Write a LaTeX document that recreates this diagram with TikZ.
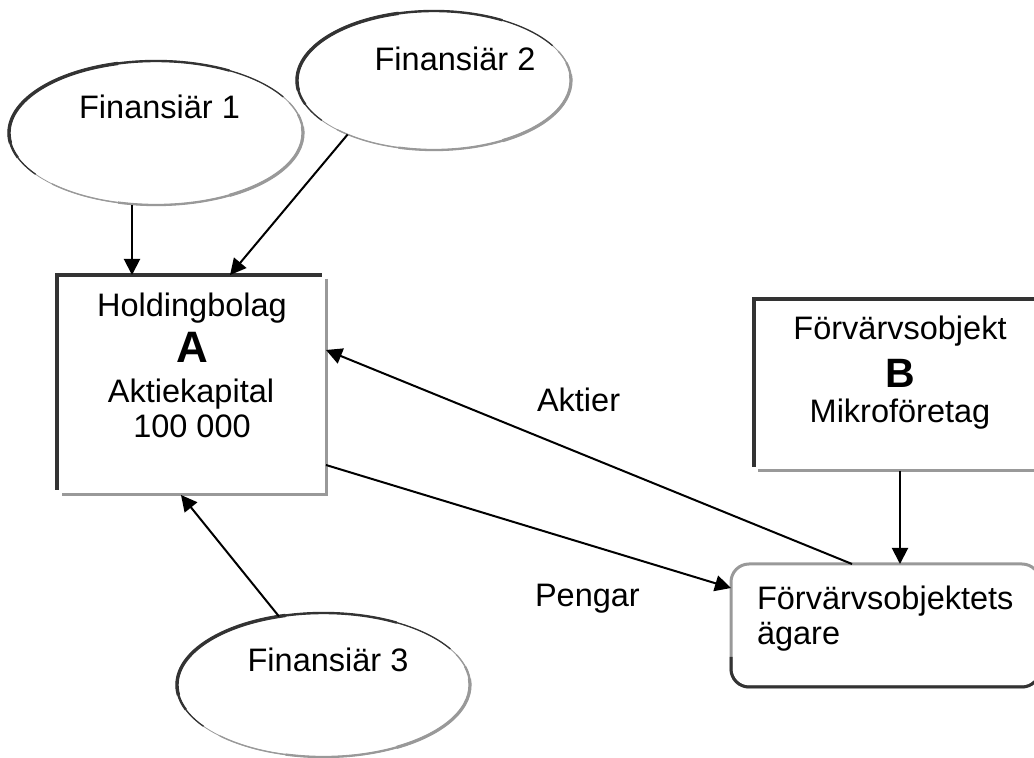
\documentclass[tikz,border=0pt]{standalone}
\usepackage{fontspec}
\setmainfont{Liberation Sans}
\usetikzlibrary{shapes.geometric,arrows.meta}

\definecolor{rimdark}{gray}{0.2}
\definecolor{rimlight}{gray}{0.6}

% Oval with a shaded rim: dark on the upper left, light on the lower right.
% #1 node name, #2 x radius (pt), #3 y radius (pt)
\newcommand\rimoval[3]{%
  \draw[rimlight, line width=0.8pt] (#1.center) ellipse[x radius=#2pt, y radius=#3pt];
  \draw[rimdark, line width=1.3pt] ([shift={(215:#2pt and #3pt)}]#1.center)
    arc[start angle=215, end angle=30, x radius=#2pt, y radius=#3pt];
  \draw[rimdark, line width=2.4pt] ([shift={(200:#2pt and #3pt)}]#1.center)
    arc[start angle=200, end angle=60, x radius=#2pt, y radius=#3pt];
  \draw[rimdark, line width=3.4pt] ([shift={(188:#2pt and #3pt)}]#1.center)
    arc[start angle=188, end angle=105, x radius=#2pt, y radius=#3pt];
  \draw[rimlight, line width=1.4pt] ([shift={(-135:#2pt and #3pt)}]#1.center)
    arc[start angle=-135, end angle=25, x radius=#2pt, y radius=#3pt];
  \draw[rimlight, line width=2.3pt] ([shift={(-105:#2pt and #3pt)}]#1.center)
    arc[start angle=-105, end angle=15, x radius=#2pt, y radius=#3pt];
  \draw[rimlight, line width=3.2pt] ([shift={(-60:#2pt and #3pt)}]#1.center)
    arc[start angle=-60, end angle=5, x radius=#2pt, y radius=#3pt];
}

\tikzset{
  txt/.style={font=\fontsize{32.5}{38}\selectfont, inner sep=0pt, outer sep=0pt},
  bigletter/.style={font=\fontsize{44}{50}\selectfont\bfseries, inner sep=0pt, outer sep=0pt},
  oval/.style={ellipse, draw=none, inner sep=0pt, outer sep=0pt},
  frame/.style={rectangle, draw=none, inner sep=0pt, outer sep=0pt},
  ownerbox/.style={rectangle, rounded corners=18pt, draw=rimlight, line width=3pt,
                   inner sep=0pt, outer sep=0pt},
  arr/.style={line width=2pt, -{Triangle[length=16pt,width=16pt]}},
}

\begin{document}
\begin{tikzpicture}[x=1pt, y=1pt]
  \path[use as bounding box] (0,0) rectangle (1034,758);
  \clip (0,0) rectangle (1034,758);

  % financiers
  \node[oval, minimum width=294pt, minimum height=144pt] (f1) at (156,625) {};
  \node[oval, minimum width=274pt, minimum height=139pt] (f2) at (434,677.5) {};
  \node[oval, minimum width=293pt, minimum height=144pt] (f3) at (323.5,73) {};
  \rimoval{f1}{147}{72}
  \rimoval{f2}{137}{69.5}
  \rimoval{f3}{146.5}{72}
  \node[txt, anchor=base] (f1-t) at (159.5,639) {Finansiär 1};
  \node[txt, anchor=base] (f2-t) at (455,687) {Finansiär 2};
  \node[txt, anchor=base] (f3-t) at (328,86) {Finansiär 3};

  % holding company A
  \node[frame, minimum width=269pt, minimum height=220pt] (A) at (191.5,373) {};
  \draw[rimdark, line width=3.5pt] ([yshift=5pt]A.south west) -- (A.north west) -- ([xshift=-4pt]A.north east);
  \draw[rimlight, line width=3pt] ([yshift=-4pt]A.north east) -- (A.south east) -- ([xshift=5pt]A.south west);
  \node[txt, anchor=base] (A-1) at (192,441) {Holdingbolag};
  \node[bigletter, anchor=base] (A-2) at (192,395) {A};
  \node[txt, anchor=base] (A-3) at (191,355) {Aktiekapital};
  \node[txt, anchor=base] (A-4) at (192,320) {100 000};

  % acquisition target B
  \node[frame, minimum width=292pt, minimum height=172pt] (B) at (900,373) {};
  \draw[rimdark, line width=3.5pt] ([yshift=4pt]B.south west) -- (B.north west) -- (B.north east);
  \draw[rimlight, line width=3pt] ([xshift=4pt]B.south west) -- (B.south east);
  \node[txt, anchor=base] (B-1) at (900,418) {Förvärvsobjekt};
  \node[bigletter, anchor=base, font=\fontsize{41}{47}\selectfont\bfseries] (B-2) at (900,370) {B};
  \node[txt, anchor=base] (B-3) at (900,335) {Mikroföretag};

  % owner of the target
  \node[ownerbox, minimum width=309pt, minimum height=123pt] (owner) at (885.5,132.5) {};
  \draw[rimdark, line width=3pt] ([yshift=30pt]owner.south west)
    -- ([yshift=18pt]owner.south west)
    arc[start angle=180, end angle=270, radius=18pt]
    -- ([xshift=-18pt]owner.south east)
    arc[start angle=270, end angle=360, radius=18pt] -- ++(0,30pt);
  \node[txt, anchor=base west] (own-1) at (757,148) {Förvärvsobjektets};
  \node[txt, anchor=base west] (own-2) at (757,113) {ägare};

  % flows
  \draw[arr] ([xshift=-24pt]f1.south) -- ([xshift=-24pt]f1.south |- A.north);
  \draw[arr] (f2.212) -- ([xshift=38.5pt]A.north);
  \draw[arr] (f3.123) -- ([xshift=-10.5pt]A.south);
  \draw[arr] ([xshift=-33.5pt]owner.north) -- ([yshift=35pt]A.east);
  \draw[arr] ([yshift=-80pt]A.east) -- ([yshift=37.5pt]owner.west);
  \draw[arr] (B.south) -- (B.south |- owner.north);

  \node[txt, anchor=base west] (lbl-aktier) at (537,346) {Aktier};
  \node[txt, anchor=base west] (lbl-pengar) at (535,151) {Pengar};
\end{tikzpicture}
\end{document}
